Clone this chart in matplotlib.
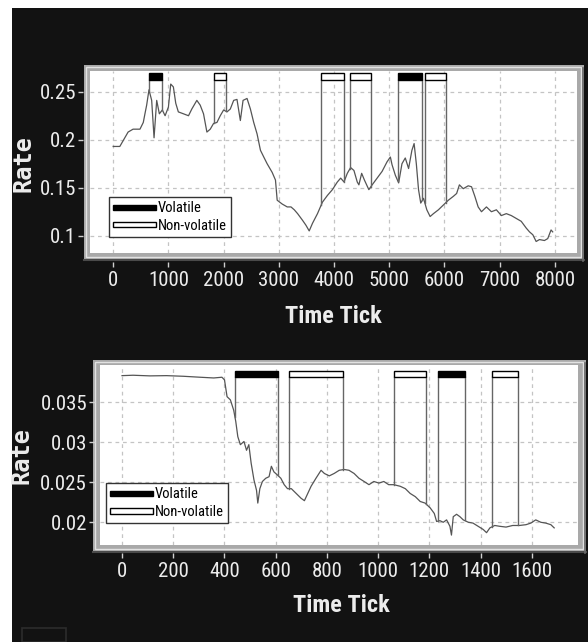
import numpy as np
import matplotlib
matplotlib.use("Agg")
import matplotlib.pyplot as plt
from matplotlib.patches import Rectangle
from matplotlib.lines import Line2D
from matplotlib.legend_handler import HandlerPatch
from matplotlib import font_manager

# ---------------- data ----------------
top_tick = [0, 120, 180, 270, 360, 485, 545, 575, 606, 648, 697, 740, 788, 836, 890, 940,
            1000, 1042, 1090, 1133, 1180, 1273, 1364, 1424, 1515, 1576, 1636, 1697, 1758,
            1818, 1879, 1939, 2000, 2061, 2121, 2182, 2242, 2303, 2352, 2424, 2485, 2545,
            2606, 2667, 2727, 2788, 2879, 2939, 2970, 3061, 3152, 3220, 3280, 3340, 3430,
            3490, 3550, 3610, 3700, 3790, 3880, 3970, 4060, 4120, 4180, 4240, 4300, 4360,
            4420, 4450, 4500, 4550, 4630, 4690, 4780, 4870, 4960, 5020, 5050, 5110, 5170,
            5230, 5290, 5350, 5410, 5450, 5490, 5530, 5570, 5620, 5680, 5740, 5800, 5890,
            5980, 6070, 6160, 6220, 6270, 6340, 6430, 6490, 6550, 6610, 6670, 6760, 6850,
            6940, 7030, 7120, 7210, 7300, 7390, 7480, 7540, 7600, 7660, 7720, 7810, 7870,
            7930, 7960]
top_rate = [0.193, 0.193, 0.199, 0.208, 0.211, 0.211, 0.218, 0.227, 0.236, 0.252, 0.241,
            0.202, 0.241, 0.227, 0.231, 0.225, 0.234, 0.258, 0.255, 0.238, 0.229, 0.227,
            0.225, 0.232, 0.241, 0.236, 0.227, 0.208, 0.211, 0.217, 0.218, 0.225, 0.231,
            0.229, 0.232, 0.241, 0.242, 0.220, 0.241, 0.243, 0.232, 0.218, 0.206, 0.189,
            0.182, 0.175, 0.166, 0.158, 0.137, 0.133, 0.130, 0.130, 0.127, 0.123, 0.116,
            0.111, 0.105, 0.113, 0.123, 0.135, 0.142, 0.148, 0.156, 0.160, 0.156, 0.165,
            0.171, 0.168, 0.156, 0.153, 0.165, 0.158, 0.148, 0.153, 0.160, 0.167, 0.177,
            0.182, 0.174, 0.163, 0.155, 0.175, 0.181, 0.170, 0.189, 0.196, 0.175, 0.148,
            0.134, 0.139, 0.127, 0.120, 0.123, 0.127, 0.132, 0.137, 0.141, 0.144, 0.153,
            0.149, 0.152, 0.151, 0.141, 0.130, 0.125, 0.130, 0.125, 0.127, 0.121, 0.123,
            0.121, 0.118, 0.115, 0.108, 0.104, 0.101, 0.094, 0.096, 0.095, 0.097, 0.106,
            0.104]

bot_tick = [0, 43, 109, 174, 240, 305, 358, 390, 400, 410, 423, 436, 444, 452, 462, 476,
            486, 495, 504, 515, 525, 530, 538, 548, 561, 574, 583, 593, 607, 620, 633, 646,
            661, 680, 699, 712, 725, 738, 757, 777, 790, 809, 828, 848, 867, 886, 906, 925,
            945, 964, 983, 1003, 1022, 1041, 1061, 1086, 1106, 1125, 1145, 1164, 1183, 1203,
            1219, 1228, 1241, 1254, 1267, 1280, 1286, 1293, 1306, 1319, 1332, 1352, 1370,
            1390, 1410, 1423, 1436, 1455, 1474, 1499, 1525, 1551, 1577, 1596, 1615, 1635,
            1654, 1674, 1687]
bot_rate = [0.03833, 0.03838, 0.03830, 0.03833, 0.03825, 0.03813, 0.03804, 0.03813,
            0.03780, 0.03570, 0.03530, 0.03400, 0.03260, 0.03070, 0.02970, 0.03010,
            0.02900, 0.02970, 0.02740, 0.02530, 0.02400, 0.02240, 0.02420, 0.02510,
            0.02550, 0.02570, 0.02700, 0.02630, 0.02590, 0.02550, 0.02470, 0.02420,
            0.02420, 0.02360, 0.02300, 0.02270, 0.02360, 0.02450, 0.02550, 0.02650,
            0.02610, 0.02580, 0.02610, 0.02650, 0.02660, 0.02650, 0.02610, 0.02550,
            0.02510, 0.02470, 0.02510, 0.02490, 0.02510, 0.02470, 0.02470, 0.02450,
            0.02420, 0.02360, 0.02320, 0.02260, 0.02240, 0.02180, 0.02110, 0.02010,
            0.02020, 0.02000, 0.02030, 0.01950, 0.01840, 0.02070, 0.02100, 0.02070,
            0.02030, 0.02000, 0.01990, 0.01950, 0.01910, 0.01870, 0.01930, 0.01960,
            0.01950, 0.01940, 0.01960, 0.01960, 0.01970, 0.01990, 0.02030, 0.02000,
            0.01990, 0.01970, 0.01930]

top_start = [652, 1822, 3770, 4290, 5158, 5647]
top_end = [893, 2039, 4174, 4664, 5598, 6022]
top_kind = ["Volatile", "Non-volatile", "Non-volatile", "Non-volatile", "Volatile", "Non-volatile"]

bot_start = [441, 651, 1060, 1233, 1443]
bot_end = [607, 864, 1187, 1337, 1547]
bot_kind = ["Volatile", "Non-volatile", "Non-volatile", "Volatile", "Non-volatile"]

top_xticks = [0, 1000, 2000, 3000, 4000, 5000, 6000, 7000, 8000]
top_yticks = [0.1, 0.15, 0.2, 0.25]
top_ylabels = ["0.1", "0.15", "0.2", "0.25"]
bot_xticks = [0, 200, 400, 600, 800, 1000, 1200, 1400, 1600]
bot_yticks = [0.02, 0.025, 0.03, 0.035]
bot_ylabels = ["0.02", "0.025", "0.03", "0.035"]

x_title = "Time Tick"
y_title = "Rate"

# ---------------- fonts ----------------
names = {f.name for f in font_manager.fontManager.ttflist}
NARROW = "DejaVu Sans"
for cand in ["Liberation Sans Narrow", "Arial Narrow", "Roboto Condensed", "Archivo Narrow",
             "PT Sans Narrow", "Fira Sans Condensed", "Barlow Condensed"]:
    if cand in names:
        NARROW = cand
        break
MONO = "DejaVu Sans Mono"
plt.rcParams["font.family"] = [NARROW, "DejaVu Sans"]

W, H = 588, 642
PT = 0.72  # points per pixel at dpi 100
BG = "#121212"
TXT = "#ececec"

fig = plt.figure(figsize=(W / 100, H / 100), dpi=100, facecolor="white")


def fx(x):
    return x / W


def fy(y):
    return 1 - y / H


def rect_px(x0, y0, x1, y1, **kw):
    r = Rectangle((fx(x0), fy(y1)), fx(x1) - fx(x0), fy(y0) - fy(y1),
                  transform=fig.transFigure, **kw)
    fig.patches.append(r)
    return r


# black background
rect_px(12, 8, W, H, facecolor=BG, edgecolor="none", zorder=-20)
# faint artefact box bottom-left
rect_px(22, 628, 66, 642, facecolor="none", edgecolor="#2c2c2c", lw=1.2, zorder=-19)


def frame(x0, y0, x1, y1):
    rect_px(x0, y0, x1, y1, facecolor="#a9a9a9", edgecolor="none", zorder=-10)
    rect_px(x0 + 2, y0 + 2, x1 - 3, y1 - 4, facecolor="none", edgecolor="#e2e2e2", lw=1.0, zorder=-9)
    fig.lines.append(Line2D([fx(x0), fx(x1)], [fy(y1 - 1)] * 2, transform=fig.transFigure,
                            color="#4a4a4a", lw=1.5, zorder=-8))
    fig.lines.append(Line2D([fx(x1 - 1)] * 2, [fy(y0 + 3), fy(y1)], transform=fig.transFigure,
                            color="#6a6a6a", lw=1.2, zorder=-8))


def bar_patch(legend, orig_handle, xdescent, ydescent, width, height, fontsize):
    return Rectangle((-xdescent, -ydescent + height * 0.25), width, height * 0.5)


def panel(box, frame_box, ticks, rates, starts, ends, kinds, xlim, ylim, xticks, yticks,
          ylabels, bar_y, x_out, y_out, ylen, leg_anchor):
    x0, y0, x1, y1 = box
    frame(*frame_box)
    ax = fig.add_axes([fx(x0), fy(y1), fx(x1) - fx(x0), fy(y0) - fy(y1)])
    ax.set_facecolor("white")
    ax.set_xlim(*xlim)
    ax.set_ylim(*ylim)
    for s in ax.spines.values():
        s.set_visible(False)
    ax.spines["bottom"].set_position(("outward", x_out * PT))
    ax.spines["left"].set_position(("outward", y_out * PT))
    ax.set_xticks(xticks)
    ax.set_xticklabels([str(t) for t in xticks])
    ax.set_yticks(yticks)
    ax.set_yticklabels(ylabels)
    ax.tick_params(axis="x", direction="out", length=5 * PT, width=1, color="#cfcfcf",
                   labelcolor=TXT, labelsize=15, pad=4 * PT)
    ax.tick_params(axis="y", direction="out", length=ylen * PT, width=1, color="#cfcfcf",
                   labelcolor=TXT, labelsize=15, pad=2 * PT)
    ax.grid(True, color="#c4c4c4", lw=0.9, linestyle=(0, (3, 3)))
    ax.set_axisbelow(True)

    ax.plot(ticks, rates, color="#555555", lw=0.9, zorder=3)

    yb0 = ylim[0] + bar_y[0] * (ylim[1] - ylim[0])
    yb1 = ylim[0] + bar_y[1] * (ylim[1] - ylim[0])
    for s, e, k in zip(starts, ends, kinds):
        fc = "black" if k == "Volatile" else "white"
        ax.add_patch(Rectangle((s, yb0), e - s, yb1 - yb0, facecolor=fc, edgecolor="black",
                               lw=1.0, zorder=5))
        for xv in (s, e):
            yc = np.interp(xv, ticks, rates)
            ax.plot([xv, xv], [yc, yb0], color="#666666", lw=1.0, zorder=4)

    h1 = Rectangle((0, 0), 1, 1, facecolor="black", edgecolor="black", lw=1.0)
    h2 = Rectangle((0, 0), 1, 1, facecolor="white", edgecolor="black", lw=1.0)
    leg = ax.legend([h1, h2], ["Volatile", "Non-volatile"], loc="upper left",
                    bbox_to_anchor=leg_anchor, borderaxespad=0, fontsize=10.5,
                    handlelength=2.9, handletextpad=0.15, labelspacing=0.25,
                    borderpad=0.3, fancybox=False, frameon=True, framealpha=1,
                    handler_map={Rectangle: HandlerPatch(patch_func=bar_patch)})
    leg.get_frame().set_edgecolor("#333333")
    leg.get_frame().set_linewidth(1.0)
    leg.set_zorder(6)
    return ax


# top panel
panel((90, 71, 577, 253), (84, 65, 584, 261), top_tick, top_rate, top_start, top_end, top_kind,
      (-420, 8400), (0.082, 0.2716), top_xticks, top_yticks, top_ylabels,
      (0.9505, 0.989), 9, 7, 5, (0.039, 0.3077))
# bottom panel
panel((100, 365, 578, 545), (93, 360, 586, 553), bot_tick, bot_rate, bot_start, bot_end, bot_kind,
      (-86, 1780), (0.01716, 0.03966), bot_xticks, bot_yticks, bot_ylabels,
      (0.933, 0.967), 8, 5, 6, (0.0126, 0.344))

# axis titles
fig.text(fx(333), fy(316), x_title, color=TXT, fontsize=17.5, fontweight="bold",
         ha="center", va="center")
fig.text(fx(341), fy(606), x_title, color=TXT, fontsize=17.5, fontweight="bold",
         ha="center", va="center")
fig.text(fx(23), fy(163), y_title, color=TXT, fontsize=17, fontweight="bold",
         family=MONO, rotation=90, ha="center", va="center")
fig.text(fx(22), fy(456), y_title, color=TXT, fontsize=17, fontweight="bold",
         family=MONO, rotation=90, ha="center", va="center")

fig.savefig("out.png", dpi=100, facecolor="white")
